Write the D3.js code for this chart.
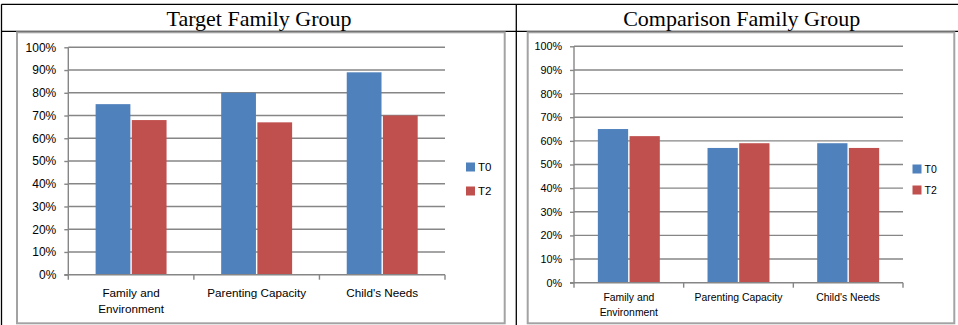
<!DOCTYPE html>
<html>
<head>
<meta charset="utf-8">
<script src="https://cdn.jsdelivr.net/npm/d3@7/dist/d3.min.js"></script>
<style>
  html, body { margin: 0; padding: 0; background: #fff; }
  svg { display: block; }
</style>
</head>
<body>
<svg id="chart" width="958" height="325"></svg>
<script>
// Category names and series values (percent)
const categories = ["Family and Environment", "Parenting Capacity", "Child's Needs"];
const seriesNames = ["T0", "T2"];
const seriesColors = ["#4F81BD", "#C0504D"];
const targetT0 = [75, 80, 89];
const targetT2 = [68, 67, 70];
const comparisonT0 = [65, 57, 59];
const comparisonT2 = [62, 59, 57];
const yTicks = [0, 10, 20, 30, 40, 50, 60, 70, 80, 90, 100];
const panelTitles = ["Target Family Group", "Comparison Family Group"];

const svg = d3.select("#chart");
const gridColor = "#868686";
const sansFont = "'Liberation Sans', Arial, sans-serif";

// Table frame with header row
const table = svg.append("g").attr("stroke", "#000").attr("stroke-width", 1.3).attr("fill", "none");
table.append("line").attr("x1", 1.5).attr("x2", 958).attr("y1", 4.3).attr("y2", 4.3);
table.append("line").attr("x1", 1.5).attr("x2", 958).attr("y1", 31.3).attr("y2", 31.3);
table.append("line").attr("x1", 1.5).attr("x2", 1.5).attr("y1", 4.3).attr("y2", 325);
table.append("line").attr("x1", 516.3).attr("x2", 516.3).attr("y1", 4.3).attr("y2", 325);

// Header titles
const titleCenters = [259, 741.7];
panelTitles.forEach((t, i) => {
  svg.append("text")
    .attr("x", titleCenters[i]).attr("y", 25.5)
    .attr("text-anchor", "middle")
    .attr("font-family", "'Liberation Serif', 'Times New Roman', serif")
    .attr("font-size", 22)
    .attr("fill", "#000")
    .text(t);
});

function wrapWords(text, maxWidth, fontSize) {
  const probe = svg.append("text").attr("font-family", sansFont).attr("font-size", fontSize);
  const words = text.split(" ");
  const lines = [];
  let cur = "";
  words.forEach(w => {
    const tryLine = cur ? cur + " " + w : w;
    probe.text(tryLine);
    if (probe.node().getComputedTextLength() > maxWidth && cur) {
      lines.push(cur);
      cur = w;
    } else {
      cur = tryLine;
    }
  });
  if (cur) lines.push(cur);
  probe.remove();
  return lines;
}

function drawPanel(cfg) {
  const g = svg.append("g");

  // Chart area border
  g.append("rect")
    .attr("x", cfg.frame[0]).attr("y", cfg.frame[1])
    .attr("width", cfg.frame[2] - cfg.frame[0])
    .attr("height", cfg.frame[3] - cfg.frame[1])
    .attr("fill", "#fff")
    .attr("stroke", "#a3a3a3")
    .attr("stroke-width", 2);

  const x = d3.scaleBand().domain(categories).range([cfg.plotX0, cfg.plotX1]).padding(0);
  const bw = x.bandwidth();
  const groupFrac = 0.565;
  const xs = d3.scaleBand().domain(seriesNames)
    .range([bw * (1 - groupFrac) / 2, bw * (1 + groupFrac) / 2]).padding(0);
  const y = d3.scaleLinear().domain([0, 100]).range([cfg.yBottom, cfg.yTop]);

  // Horizontal gridlines
  g.append("g").selectAll("line")
    .data(yTicks.filter(d => d > 0))
    .join("line")
    .attr("x1", cfg.plotX0).attr("x2", cfg.plotX1)
    .attr("y1", d => y(d)).attr("y2", d => y(d))
    .attr("stroke", gridColor).attr("stroke-width", 1.4);

  // Bars
  const rows = categories.map((c, i) => ({ c, vals: [cfg.t0[i], cfg.t2[i]] }));
  const groups = g.append("g").selectAll("g")
    .data(rows).join("g")
    .attr("transform", d => `translate(${x(d.c)},0)`);
  groups.selectAll("rect")
    .data(d => d.vals.map((v, k) => ({ v, s: seriesNames[k], k })))
    .join("rect")
    .attr("x", d => xs(d.s) + (d.k === 1 ? 0.7 : 0))
    .attr("width", d => xs.bandwidth() - 0.7)
    .attr("y", d => y(d.v))
    .attr("height", d => y(0) - y(d.v))
    .attr("fill", d => seriesColors[d.k]);

  // Y axis
  const yAxis = d3.axisLeft(y).tickValues(yTicks).tickSize(4).tickPadding(cfg.tickPad)
    .tickFormat(d => d + "%");
  const ya = g.append("g").attr("transform", `translate(${cfg.plotX0},0)`).call(yAxis);
  ya.select(".domain").remove();
  ya.selectAll(".tick line").attr("stroke", gridColor).attr("stroke-width", 1.4);
  ya.selectAll(".tick text").attr("font-family", sansFont).attr("font-size", cfg.tickFont).attr("fill", "#000");
  g.append("line")
    .attr("x1", cfg.plotX0).attr("x2", cfg.plotX0)
    .attr("y1", y(100)).attr("y2", y(0))
    .attr("stroke", gridColor).attr("stroke-width", 1.4);

  // X axis line and boundary ticks
  g.append("line")
    .attr("x1", cfg.plotX0 - 4).attr("x2", cfg.plotX1)
    .attr("y1", y(0)).attr("y2", y(0))
    .attr("stroke", gridColor).attr("stroke-width", 1.4);
  const bounds = categories.map(c => x(c)).concat([cfg.plotX1]);
  g.append("g").selectAll("line").data(bounds).join("line")
    .attr("x1", d => d).attr("x2", d => d)
    .attr("y1", y(0)).attr("y2", y(0) + 5)
    .attr("stroke", gridColor).attr("stroke-width", 1.4);

  // Category labels
  categories.forEach(c => {
    const lines = wrapWords(c, bw * 0.95, cfg.catFont);
    const t = g.append("text")
      .attr("text-anchor", "middle")
      .attr("font-family", sansFont)
      .attr("font-size", cfg.catFont)
      .attr("fill", "#000");
    lines.forEach((ln, i) => {
      t.append("tspan")
        .attr("x", x(c) + bw / 2)
        .attr("y", y(0) + cfg.catOffset + i * cfg.catLine)
        .text(ln);
    });
  });

  // Legend
  seriesNames.forEach((s, i) => {
    const cy = cfg.legendY[i];
    g.append("rect")
      .attr("x", cfg.legendX).attr("y", cy - 4.5)
      .attr("width", 9).attr("height", 9)
      .attr("fill", seriesColors[i]);
    g.append("text")
      .attr("x", cfg.legendX + 12).attr("y", cy + cfg.legendFont * 0.36)
      .attr("font-family", sansFont)
      .attr("font-size", cfg.legendFont)
      .attr("fill", "#000")
      .text(s);
  });
}

drawPanel({
  frame: [17, 32.3, 504.7, 323.3],
  plotX0: 68.3, plotX1: 445, yTop: 47.3, yBottom: 274.7,
  t0: targetT0, t2: targetT2,
  tickFont: 12, tickPad: 8, catFont: 11.7, catOffset: 22, catLine: 16,
  legendX: 466, legendY: [167, 191], legendFont: 11.5
});

drawPanel({
  frame: [527.7, 32.3, 954.3, 323.3],
  plotX0: 574, plotX1: 903, yTop: 46.3, yBottom: 282.7,
  t0: comparisonT0, t2: comparisonT2,
  tickFont: 10.8, tickPad: 8, catFont: 10.4, catOffset: 18.5, catLine: 14.5,
  legendX: 912.5, legendY: [169, 190], legendFont: 10.5
});
</script>
</body>
</html>
